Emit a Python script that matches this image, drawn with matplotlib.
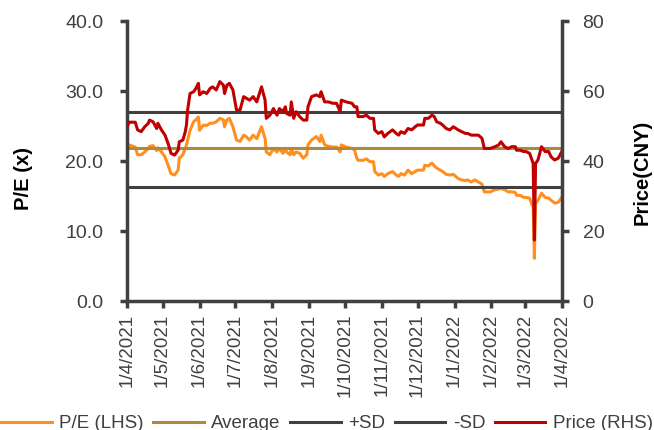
import pandas as pd
import matplotlib
matplotlib.use("Agg")
import matplotlib.pyplot as plt
import matplotlib.dates as mdates
import matplotlib.ticker as ticker

plt.rcParams["font.family"] = ["Liberation Sans", "DejaVu Sans"]

# daily closes (P/E on left axis, price in CNY on right axis)
dates = [
    "2021-04-01", "2021-04-03", "2021-04-08", "2021-04-10", "2021-04-13", "2021-04-16",
    "2021-04-19", "2021-04-20", "2021-04-23", "2021-04-26", "2021-04-27", "2021-04-30",
    "2021-05-03", "2021-05-06", "2021-05-08", "2021-05-11", "2021-05-14", "2021-05-15",
    "2021-05-18", "2021-05-20", "2021-05-21", "2021-05-22", "2021-05-24", "2021-05-27",
    "2021-05-29", "2021-05-31", "2021-06-01", "2021-06-04", "2021-06-07", "2021-06-10",
    "2021-06-12", "2021-06-15", "2021-06-18", "2021-06-21", "2021-06-22", "2021-06-24",
    "2021-06-26", "2021-06-29", "2021-07-02", "2021-07-05", "2021-07-08", "2021-07-10",
    "2021-07-13", "2021-07-16", "2021-07-19", "2021-07-23", "2021-07-26", "2021-07-27",
    "2021-07-30", "2021-08-02", "2021-08-05", "2021-08-07", "2021-08-10", "2021-08-12",
    "2021-08-13", "2021-08-16", "2021-08-17", "2021-08-19", "2021-08-21", "2021-08-24",
    "2021-08-27", "2021-08-30", "2021-08-31", "2021-09-03", "2021-09-07", "2021-09-10",
    "2021-09-11", "2021-09-14", "2021-09-17", "2021-09-21", "2021-09-24", "2021-09-27",
    "2021-09-28", "2021-10-02", "2021-10-07", "2021-10-09", "2021-10-11", "2021-10-12",
    "2021-10-16", "2021-10-19", "2021-10-22", "2021-10-25", "2021-10-26", "2021-10-29",
    "2021-11-01", "2021-11-03", "2021-11-06", "2021-11-10", "2021-11-13", "2021-11-15",
    "2021-11-17", "2021-11-20", "2021-11-23", "2021-11-26", "2021-11-29", "2021-12-01",
    "2021-12-06", "2021-12-07", "2021-12-10", "2021-12-13", "2021-12-15", "2021-12-17",
    "2021-12-20", "2021-12-22", "2021-12-25", "2021-12-28", "2021-12-31", "2022-01-04",
    "2022-01-07", "2022-01-10", "2022-01-12", "2022-01-15", "2022-01-18", "2022-01-21",
    "2022-01-24", "2022-01-26", "2022-01-31", "2022-02-04", "2022-02-07", "2022-02-09",
    "2022-02-12", "2022-02-15", "2022-02-18", "2022-02-21", "2022-02-22", "2022-02-25",
    "2022-02-28", "2022-03-02", "2022-03-05", "2022-03-07", "2022-03-08", "2022-03-09",
    "2022-03-10", "2022-03-12", "2022-03-15", "2022-03-18", "2022-03-21", "2022-03-23",
    "2022-03-26", "2022-03-29", "2022-04-01",
]

pe = [
    21.8, 22.3, 22.0, 20.9, 20.9, 21.3,
    21.8, 22.1, 22.2, 21.5, 21.9, 21.3,
    20.6, 19.2, 18.2, 18.0, 18.7, 20.4,
    20.9, 21.8, 22.3, 23.0, 24.4, 25.6,
    25.9, 26.3, 24.4, 25.1, 25.1, 25.4,
    25.4, 25.6, 26.1, 25.9, 24.9, 25.9,
    26.1, 24.9, 23.0, 22.8, 23.7, 23.5,
    23.0, 23.7, 23.2, 24.9, 23.2, 21.3,
    20.9, 21.8, 21.3, 21.8, 21.1, 21.8,
    21.3, 20.9, 21.8, 20.9, 21.3, 21.1,
    20.4, 20.9, 22.3, 23.0, 23.5, 22.8,
    23.7, 22.3, 22.1, 22.0, 22.0, 21.3,
    22.3, 22.0, 21.8, 21.6, 20.4, 20.1,
    20.1, 20.3, 19.9, 19.9, 18.5, 18.0,
    18.2, 17.8, 18.2, 18.5, 18.0, 17.8,
    18.2, 18.0, 18.7, 18.2, 18.5, 18.7,
    18.7, 19.4, 19.3, 19.7, 19.3, 19.0,
    18.7, 18.5, 18.1, 18.0, 18.1, 17.5,
    17.3, 17.2, 17.3, 17.0, 17.3, 17.0,
    16.7, 15.6, 15.6, 15.9, 16.0, 16.1,
    15.9, 15.6, 15.6, 15.5, 15.1, 15.1,
    14.8, 14.8, 14.7, 13.7, 13.5, 6.1,
    14.0, 14.4, 15.4, 14.8, 14.7, 14.4,
    14.0, 14.1, 14.8,
]

price = [
    49.7, 51.1, 51.1, 48.9, 48.4, 49.8,
    50.8, 51.7, 51.2, 49.3, 50.8, 48.9,
    47.4, 44.6, 42.2, 41.7, 43.1, 45.5,
    46.0, 48.4, 50.3, 54.6, 59.3, 59.8,
    60.8, 62.2, 58.9, 59.8, 59.3, 60.8,
    61.2, 60.3, 62.7, 61.7, 59.3, 61.7,
    62.2, 60.3, 54.6, 54.6, 58.4, 58.0,
    57.4, 58.4, 56.9, 61.2, 57.4, 52.2,
    53.1, 55.0, 53.1, 55.0, 54.1, 55.5,
    53.6, 53.1, 56.9, 52.2, 54.1, 52.7,
    51.7, 51.7, 55.5, 58.4, 58.9, 58.4,
    59.8, 56.9, 56.9, 56.5, 56.5, 54.1,
    57.4, 56.9, 56.5, 55.5, 55.5, 52.7,
    52.7, 53.1, 52.2, 52.2, 48.9, 47.9,
    48.4, 46.9, 47.9, 48.9, 47.9, 47.4,
    48.4, 47.9, 49.3, 48.9, 49.8, 50.3,
    50.3, 52.2, 52.2, 53.1, 52.7, 51.2,
    50.8, 50.3, 49.3, 48.9, 49.8, 48.9,
    48.4, 47.9, 47.9, 47.4, 47.4, 47.4,
    46.5, 43.6, 43.6, 44.1, 44.6, 45.5,
    44.1, 43.6, 44.1, 44.1, 43.1, 43.1,
    42.7, 42.7, 42.2, 40.3, 39.3, 17.4,
    39.3, 40.3, 44.1, 42.7, 42.7, 41.2,
    40.3, 40.8, 42.7,
]

pe_average = 21.8
pe_plus_sd = 27.05
pe_minus_sd = 16.35

x = pd.to_datetime(dates)
start = pd.Timestamp("2021-04-01")
end = pd.Timestamp("2022-04-01")

axis_color = "#404040"
fs = 13.5

fig = plt.figure(figsize=(6.54, 4.30), dpi=100)
ax = fig.add_axes([0.194, 0.30, 0.665, 0.651])
ax2 = ax.twinx()

ax.plot(x, pe, color="#FF8F1F", lw=2.2, label="P/E (LHS)")
ax.plot([start, end], [pe_average] * 2, color="#AD8A3E", lw=2.2, label="Average")
ax.plot([start, end], [pe_plus_sd] * 2, color=axis_color, lw=2.2, label="+SD")
ax.plot([start, end], [pe_minus_sd] * 2, color=axis_color, lw=2.2, label="-SD")
ax2.plot(x, price, color="#C00000", lw=2.2, label="Price (RHS)")

ax.set_xlim(start, end)
ax.set_ylim(0, 40)
ax2.set_ylim(0, 80)
ax.yaxis.set_major_locator(ticker.MultipleLocator(10))
ax.yaxis.set_major_formatter(ticker.FormatStrFormatter("%.1f"))
ax2.yaxis.set_major_locator(ticker.MultipleLocator(20))

ax.xaxis.set_major_locator(mdates.MonthLocator(bymonthday=1))
ax.xaxis.set_major_formatter(ticker.FuncFormatter(
    lambda v, pos: "{0.day}/{0.month}/{0.year}".format(mdates.num2date(v))))
plt.setp(ax.get_xticklabels(), rotation=90)

for a in (ax, ax2):
    a.spines["top"].set_visible(False)
    for s in ("left", "right", "bottom"):
        a.spines[s].set_color(axis_color)
        a.spines[s].set_linewidth(2.5)
    a.tick_params(colors=axis_color, labelsize=fs, width=2.5, length=5, direction="out")
ax.spines["right"].set_visible(False)
ax2.spines["left"].set_visible(False)
ax2.spines["bottom"].set_visible(False)
ax.tick_params(axis="y", pad=12, labelsize=14)
ax2.tick_params(axis="y", pad=10, labelsize=14)
ax.tick_params(axis="x", pad=4)

ax.set_ylabel("P/E (x)", fontsize=14.5, fontweight="bold", color="black")
ax.yaxis.set_label_coords(-0.216, 0.436)
ax2.set_ylabel("Price(CNY)", fontsize=14.5, fontweight="bold", color="black", rotation=90)
ax2.yaxis.set_label_coords(1.163, 0.46)

h1, l1 = ax.get_legend_handles_labels()
h2, l2 = ax2.get_legend_handles_labels()
fig.legend(h1 + h2, l1 + l2, loc="center", bbox_to_anchor=(0.5, 0.015), ncol=5,
           frameon=False, fontsize=fs, handlelength=2.7, handletextpad=0.4,
           columnspacing=0.5, labelcolor=axis_color)

fig.savefig("out.png", dpi=100)
